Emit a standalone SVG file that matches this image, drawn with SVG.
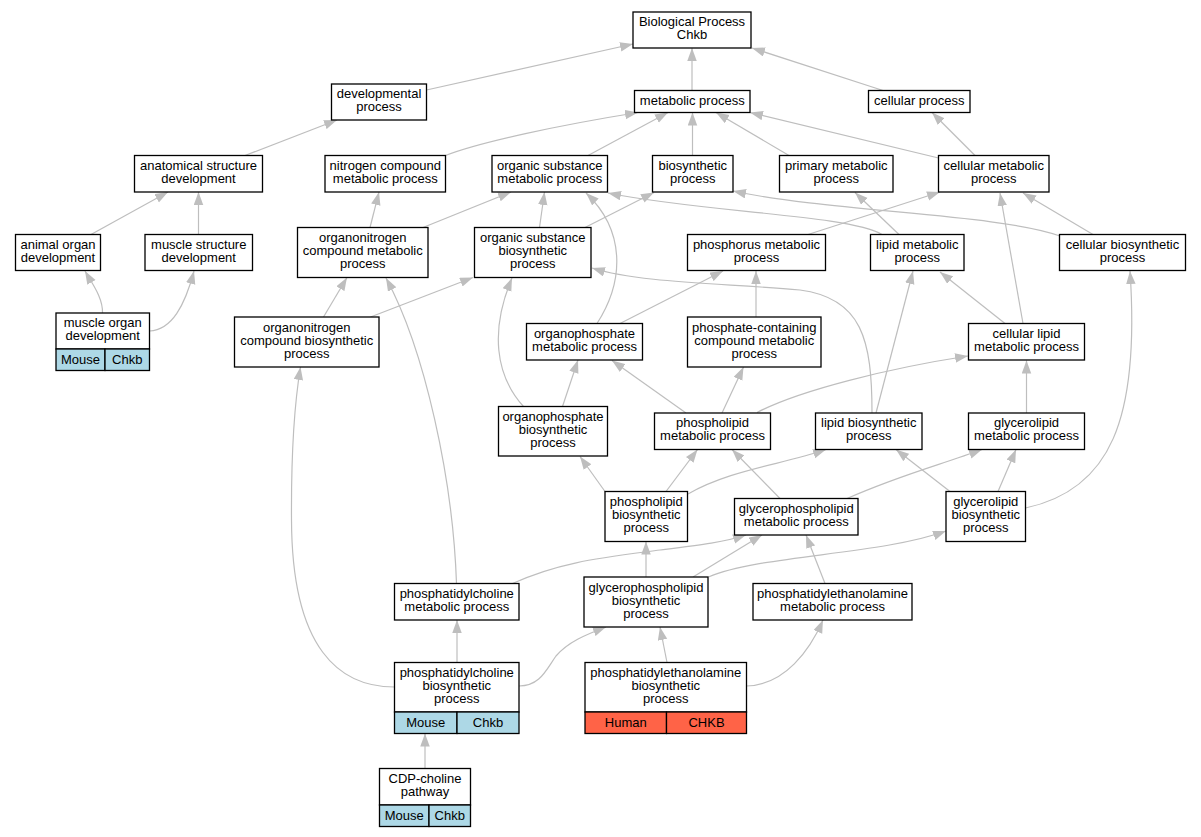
<svg xmlns="http://www.w3.org/2000/svg" width="1201" height="837" viewBox="0 0 1201 837">
<style>
.n rect{fill:#fff;stroke:#000;stroke-width:1.3}
.n rect.b{fill:#add8e6}
.n rect.r{fill:#ff6347}
text{font-family:"Liberation Sans",Arial,sans-serif;font-size:13px;fill:#000;text-anchor:middle}
#edges path{fill:none;stroke:#bebebe;stroke-width:1.2;marker-end:url(#ah)}
</style>
<defs>
<marker id="ah" markerUnits="userSpaceOnUse" markerWidth="13" markerHeight="10" refX="13" refY="4.75" orient="auto">
<path d="M0,0 L13,4.75 L0,9.5 z" fill="#bebebe"/>
</marker>
</defs>
<rect width="1201" height="837" fill="#fff"/>
<g id="edges">
<path d="M692,90.5 L692,48"/>
<path d="M883,90.5 L752,48"/>
<path d="M426.5,90 L633,44"/>
<path d="M245,155.5 L337,120"/>
<path d="M91,234.5 L168,192"/>
<path d="M198.5,234.5 L198.5,192"/>
<path d="M102.5,313 C103,298 93,285 85,271"/>
<path d="M149.5,331 C172,330 185,305 194,271"/>
<path d="M445.5,155.5 C480,142 560,125 638,112.5"/>
<path d="M588,155.5 L668,112.5"/>
<path d="M692.5,155.5 L692.5,112.5"/>
<path d="M789,155.5 L716,112.5"/>
<path d="M938.5,158 L750,112.5"/>
<path d="M975,155.5 L932,112.5"/>
<path d="M370,227.5 L379,192"/>
<path d="M423,227.5 L511,192"/>
<path d="M539.5,227.5 L544.5,192"/>
<path d="M585,227.5 L654,192.5"/>
<path d="M808,234.5 L940,192"/>
<path d="M882,234.5 C850,215 700,212 608,193"/>
<path d="M899,234.5 L855,192.5"/>
<path d="M1060,236 C1000,214 830,212 733,191"/>
<path d="M1093,234.5 L1023,193"/>
<path d="M323.5,317 L347,277.5"/>
<path d="M370.5,317 L473,277.5"/>
<path d="M456.5,583.5 C453,480 425,350 386,278"/>
<path d="M394.5,687 C340,687 292,650 291.5,520 C291,440 295,400 300.5,367"/>
<path d="M523.5,406.5 C495,375 490,330 512,278"/>
<path d="M597,323.5 C625,280 625,230 586,193"/>
<path d="M562.5,406.5 L578,360"/>
<path d="M620,323.5 L723,271"/>
<path d="M756,317 L756,271"/>
<path d="M686,413 L612,360.5"/>
<path d="M722,413 L743.5,367"/>
<path d="M757,412.5 C800,390 890,368 968,356"/>
<path d="M876,413 L913,271"/>
<path d="M872,413 C872,340 862,298 800,290 C720,283 640,283 592,268"/>
<path d="M1005,323.5 L940,272"/>
<path d="M1023,323.5 L1000,193"/>
<path d="M1026.5,413 L1026.5,360.5"/>
<path d="M605,491.5 L580,456.5"/>
<path d="M666,491.5 L697.5,449.5"/>
<path d="M688,494 C730,470 780,465 826,449.5"/>
<path d="M780,498.5 L732,449.5"/>
<path d="M847,498.5 C900,475 940,465 982,449.5"/>
<path d="M950,491.5 L896,449.5"/>
<path d="M998,491.5 L1016,449.5"/>
<path d="M1025.5,508 C1110,490 1140,420 1130,271"/>
<path d="M512.5,583.5 C560,562 600,558 660,550 C700,545 725,542 746,535"/>
<path d="M646,577 L646,541.5"/>
<path d="M693,577 L762,535"/>
<path d="M708.5,577 C760,555 880,555 946,531"/>
<path d="M825,583.5 L806,535"/>
<path d="M457,662.5 L457,620"/>
<path d="M519,686 C540,686 546,670 556,656 C568,642 585,635 606,627"/>
<path d="M667,662.5 L660,627"/>
<path d="M746.5,686 C785,685 810,650 823,620"/>
<path d="M425,768.5 L425,733.5"/>
</g>
<g id="bp" class="n"><rect x="633" y="12" width="118" height="36"/><text x="692" y="26">Biological Process</text><text x="692" y="39">Chkb</text></g>
<g id="metabolic" class="n"><rect x="634.5" y="90.5" width="115.5" height="22"/><text x="692.25" y="104.5">metabolic process</text></g>
<g id="cellular" class="n"><rect x="868.5" y="90.5" width="101.5" height="22"/><text x="919.25" y="104.5">cellular process</text></g>
<g id="developmental" class="n"><rect x="331.5" y="84" width="95" height="36"/><text x="379" y="98">developmental</text><text x="379" y="111">process</text></g>
<g id="anatomical" class="n"><rect x="134.5" y="155.5" width="128" height="36.5"/><text x="198.5" y="169.75">anatomical structure</text><text x="198.5" y="182.75">development</text></g>
<g id="nitrogen" class="n"><rect x="325" y="155.5" width="120.5" height="36.5"/><text x="385.25" y="169.75">nitrogen compound</text><text x="385.25" y="182.75">metabolic process</text></g>
<g id="orgsubmet" class="n"><rect x="492" y="155.5" width="115.5" height="36.5"/><text x="549.75" y="169.75">organic substance</text><text x="549.75" y="182.75">metabolic process</text></g>
<g id="biosynthetic" class="n"><rect x="652.5" y="155.5" width="80.5" height="36.5"/><text x="692.75" y="169.75">biosynthetic</text><text x="692.75" y="182.75">process</text></g>
<g id="primary" class="n"><rect x="779.5" y="155.5" width="113.5" height="36.5"/><text x="836.25" y="169.75">primary metabolic</text><text x="836.25" y="182.75">process</text></g>
<g id="cellmet" class="n"><rect x="938.5" y="155.5" width="110.5" height="36.5"/><text x="993.75" y="169.75">cellular metabolic</text><text x="993.75" y="182.75">process</text></g>
<g id="animalorgan" class="n"><rect x="15.5" y="234.5" width="85" height="36"/><text x="58" y="248.5">animal organ</text><text x="58" y="261.5">development</text></g>
<g id="musclestruct" class="n"><rect x="145" y="234.5" width="107.5" height="36"/><text x="198.75" y="248.5">muscle structure</text><text x="198.75" y="261.5">development</text></g>
<g id="orgnitmet" class="n"><rect x="297.5" y="227.5" width="130.5" height="50"/><text x="362.75" y="242">organonitrogen</text><text x="362.75" y="255">compound metabolic</text><text x="362.75" y="268">process</text></g>
<g id="orgsubbio" class="n"><rect x="474.5" y="227.5" width="116.5" height="50"/><text x="532.75" y="242">organic substance</text><text x="532.75" y="255">biosynthetic</text><text x="532.75" y="268">process</text></g>
<g id="phosphorus" class="n"><rect x="687.5" y="234.5" width="138" height="36"/><text x="756.5" y="248.5">phosphorus metabolic</text><text x="756.5" y="261.5">process</text></g>
<g id="lipidmet" class="n"><rect x="870.5" y="234.5" width="93.5" height="36"/><text x="917.25" y="248.5">lipid metabolic</text><text x="917.25" y="261.5">process</text></g>
<g id="cellbio" class="n"><rect x="1059.5" y="234.5" width="126" height="36"/><text x="1122.5" y="248.5">cellular biosynthetic</text><text x="1122.5" y="261.5">process</text></g>
<g id="muscleorgan" class="n"><rect x="56" y="313" width="93.5" height="36"/><text x="102.75" y="327">muscle organ</text><text x="102.75" y="340">development</text><rect class="b" x="56" y="349" width="49" height="21.5"/><rect class="b" x="105" y="349" width="44.5" height="21.5"/><text x="80.5" y="364">Mouse</text><text x="127.25" y="364">Chkb</text></g>
<g id="orgnitbio" class="n"><rect x="234.5" y="317" width="144.5" height="50"/><text x="306.75" y="331.5">organonitrogen</text><text x="306.75" y="344.5">compound biosynthetic</text><text x="306.75" y="357.5">process</text></g>
<g id="orgphosmet" class="n"><rect x="526.5" y="323.5" width="116" height="36.5"/><text x="584.5" y="337.75">organophosphate</text><text x="584.5" y="350.75">metabolic process</text></g>
<g id="phoscont" class="n"><rect x="687.5" y="317" width="133.5" height="50"/><text x="754.25" y="331.5">phosphate-containing</text><text x="754.25" y="344.5">compound metabolic</text><text x="754.25" y="357.5">process</text></g>
<g id="celllipid" class="n"><rect x="968.5" y="323.5" width="116" height="36.5"/><text x="1026.5" y="337.75">cellular lipid</text><text x="1026.5" y="350.75">metabolic process</text></g>
<g id="orgphosbio" class="n"><rect x="498.5" y="406.5" width="109" height="49.5"/><text x="553" y="420.75">organophosphate</text><text x="553" y="433.75">biosynthetic</text><text x="553" y="446.75">process</text></g>
<g id="phoslipmet" class="n"><rect x="654.5" y="413" width="116" height="36.5"/><text x="712.5" y="427.25">phospholipid</text><text x="712.5" y="440.25">metabolic process</text></g>
<g id="lipidbio" class="n"><rect x="815.5" y="413" width="106.5" height="36.5"/><text x="868.75" y="427.25">lipid biosynthetic</text><text x="868.75" y="440.25">process</text></g>
<g id="glyclipmet" class="n"><rect x="968.5" y="413" width="116" height="36.5"/><text x="1026.5" y="427.25">glycerolipid</text><text x="1026.5" y="440.25">metabolic process</text></g>
<g id="phoslipbio" class="n"><rect x="605" y="491.5" width="82.5" height="50"/><text x="646.25" y="506">phospholipid</text><text x="646.25" y="519">biosynthetic</text><text x="646.25" y="532">process</text></g>
<g id="gpmet" class="n"><rect x="734.5" y="498.5" width="123.5" height="36.5"/><text x="796.25" y="512.75">glycerophospholipid</text><text x="796.25" y="525.75">metabolic process</text></g>
<g id="glyclipbio" class="n"><rect x="946" y="491.5" width="79.5" height="50"/><text x="985.75" y="506">glycerolipid</text><text x="985.75" y="519">biosynthetic</text><text x="985.75" y="532">process</text></g>
<g id="pcmet" class="n"><rect x="394.5" y="583.5" width="124.5" height="36.5"/><text x="456.75" y="597.75">phosphatidylcholine</text><text x="456.75" y="610.75">metabolic process</text></g>
<g id="gpbio" class="n"><rect x="584" y="577" width="124" height="50"/><text x="646" y="591.5">glycerophospholipid</text><text x="646" y="604.5">biosynthetic</text><text x="646" y="617.5">process</text></g>
<g id="pemet" class="n"><rect x="753" y="583.5" width="159" height="36.5"/><text x="832.5" y="597.75">phosphatidylethanolamine</text><text x="832.5" y="610.75">metabolic process</text></g>
<g id="pcbio" class="n"><rect x="394.5" y="662.5" width="124.5" height="49.5"/><text x="456.75" y="676.75">phosphatidylcholine</text><text x="456.75" y="689.75">biosynthetic</text><text x="456.75" y="702.75">process</text><rect class="b" x="394.5" y="712" width="62.5" height="21.5"/><rect class="b" x="457" y="712" width="62" height="21.5"/><text x="425.75" y="727">Mouse</text><text x="488" y="727">Chkb</text></g>
<g id="pebio" class="n"><rect x="585" y="662.5" width="161.5" height="49.5"/><text x="665.75" y="676.75">phosphatidylethanolamine</text><text x="665.75" y="689.75">biosynthetic</text><text x="665.75" y="702.75">process</text><rect class="r" x="585" y="712" width="81.5" height="21.5"/><rect class="r" x="666.5" y="712" width="80" height="21.5"/><text x="625.75" y="727">Human</text><text x="706.5" y="727">CHKB</text></g>
<g id="cdp" class="n"><rect x="379.5" y="768.5" width="91" height="36.5"/><text x="425" y="782.75">CDP-choline</text><text x="425" y="795.75">pathway</text><rect class="b" x="379.5" y="805" width="49.5" height="21.5"/><rect class="b" x="429" y="805" width="41.5" height="21.5"/><text x="404.25" y="820">Mouse</text><text x="449.75" y="820">Chkb</text></g>
</svg>
